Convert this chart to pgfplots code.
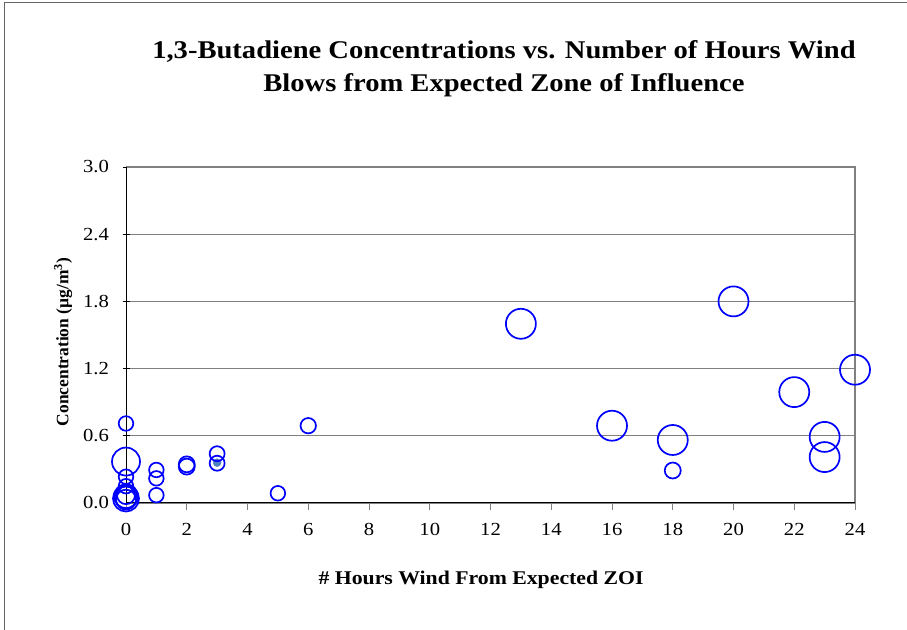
\documentclass[border=0pt]{standalone}
\usepackage{pgfplots}
\pgfplotsset{compat=1.18}
\usepackage{fontspec}
\setmainfont{Liberation Serif}[FakeStretch=1.12]
\newfontfamily\plainserif{Liberation Serif}
\definecolor{bubble}{RGB}{0,0,255}
\definecolor{dotfill}{RGB}{80,128,190}
\definecolor{gridc}{RGB}{128,128,128}
\definecolor{framec}{RGB}{100,100,100}
\begin{document}
\begin{tikzpicture}[x=1bp,y=1bp]
\useasboundingbox (0,0) rectangle (907,630);
\draw[framec, line width=0.8bp] (4,0) -- (4,627.3) -- (907,627.3);
\begin{axis}[
  at={(126bp,127bp)}, anchor=south west,
  scale only axis, width=729bp, height=336bp,
  xmin=0, xmax=24, ymin=0, ymax=3.0,
  xtick={0,2,...,24},
  ytick={0,0.6,1.2,1.8,2.4,3.0},
  yticklabel style={/pgf/number format/fixed, /pgf/number format/fixed zerofill, /pgf/number format/precision=1},
  /pgf/number format/assume math mode=true,
  tick label style={font=\fontsize{18.5}{20}\selectfont},
  xtick pos=bottom, ytick pos=left,
  xtick align=outside, ytick align=center,
  major tick length=7bp,
  xtick style={gridc, line width=0.8bp},
  ytick style={black, line width=0.8bp},
  ymajorgrids, major grid style={gridc, line width=0.9bp},
  axis line style={draw=none},
  clip=false,
  xticklabel style={yshift=-10bp},
  yticklabel style={xshift=-10bp},
  title={1,3-Butadiene Concentrations vs. Number of Hours Wind\\Blows from Expected Zone of Influence},
  title style={at={(rel axis cs:0.5185,1.275)}, anchor=center, align=center, font=\fontsize{25.6}{33}\selectfont\bfseries},
  xlabel={\# Hours Wind From Expected ZOI},
  xlabel style={at={(rel axis cs:0.487,-0.228)}, anchor=center, font=\fontsize{19.5}{22}\selectfont\bfseries},
  ylabel={Concentration (µg/m\textsuperscript{3})},
  ylabel style={at={(rel axis cs:-0.0864,0.479)}, anchor=center, rotate=0, font=\plainserif\fontsize{17.5}{20}\selectfont\bfseries},
]
\addplot[only marks, mark=*, mark size=4bp, draw=dotfill, fill=dotfill] coordinates {(3,0.36)};
\addplot[scatter, only marks, mark=o, line width=1.7bp,
  scatter/use mapped color={draw=bubble, fill=none},
  visualization depends on={\thisrow{r}\as\rr},
  scatter/@pre marker code/.append style={/tikz/mark size=\rr bp}]
table[x=x, y=y] {
x y r
0 0.71 7.3
0 0.37 14
0 0.235 7.3
0 0.15 7.3
0 0.04 13
0 0.06 12
0 0.05 11
0 0.03 10
0 0.07 9
1 0.295 7.3
1 0.22 7.3
1 0.07 7.3
2 0.345 8
2 0.325 8
3 0.44 7.5
3 0.355 7.5
5 0.087 7.3
6 0.69 7.7
13 1.60 15
16 0.69 15
18 0.5625 15
18 0.29 8
20 1.80 15
22 0.99 15
23 0.59 15
23 0.41 15
24 1.19 15
};
\draw[gridc, line width=2bp] (rel axis cs:0,1) -- (rel axis cs:1,1) -- (rel axis cs:1,0);
\draw[black, line width=1bp] (rel axis cs:0,1) -- (rel axis cs:0,0) -- (rel axis cs:1,0);
\end{axis}
\end{tikzpicture}
\end{document}
